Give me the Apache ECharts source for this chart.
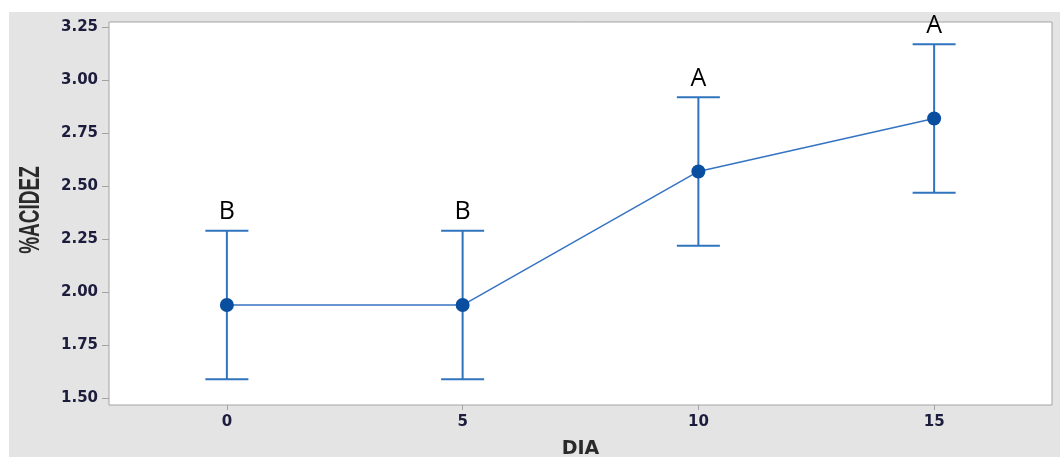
<!DOCTYPE html>
<html>
<head>
<meta charset="utf-8">
<script src="https://cdn.jsdelivr.net/npm/echarts@6/dist/echarts.min.js"></script>
<style>
  html, body { margin: 0; padding: 0; background: #ffffff; }
  #chart { width: 1060px; height: 457px; }
</style>
</head>
<body>
<div id="chart"></div>
<script>
// Acidity (%) by storage day: means with confidence intervals and Tukey group letters
const days = [0, 5, 10, 15];
const meanAcidity = [1.94, 1.94, 2.57, 2.82];
const lowerCI = [1.59, 1.59, 2.22, 2.47];
const upperCI = [2.29, 2.29, 2.92, 3.17];
const groupLetters = ['B', 'B', 'A', 'A'];
const yTicks = [1.50, 1.75, 2.00, 2.25, 2.50, 2.75, 3.00, 3.25];
const xTicks = [0, 5, 10, 15];

const chart = echarts.init(document.getElementById('chart'));

const meanPoints = days.map((d, i) => [d, meanAcidity[i]]);
const intervalRows = days.map((d, i) => [d, lowerCI[i], upperCI[i], groupLetters[i]]);

const tickFont = {
  fontFamily: 'DejaVu Sans',
  fontWeight: 'bold',
  fontSize: 15,
  color: '#1c1c3c'
};

chart.setOption({
  animation: false,
  backgroundColor: 'transparent',
  graphic: [
    {
      type: 'rect',
      z: -10,
      silent: true,
      shape: { x: 9, y: 12, width: 1051, height: 445 },
      style: { fill: '#e4e4e4' }
    },
    {
      type: 'text',
      x: 31,
      y: 210,
      rotation: Math.PI / 2,
      scaleY: 1.55,
      style: {
        text: '%ACIDEZ',
        font: 'bold 19px "Liberation Sans"',
        fill: '#2a2a2a',
        align: 'center',
        verticalAlign: 'middle'
      }
    }
  ],
  grid: {
    show: true,
    left: 109,
    right: 8,
    top: 22,
    bottom: 52,
    outerBoundsMode: 'none',
    containLabel: false,
    backgroundColor: '#ffffff',
    borderColor: '#a3a3a3',
    borderWidth: 1
  },
  xAxis: {
    type: 'value',
    min: -2.5,
    max: 17.5,
    name: 'DIA',
    nameLocation: 'middle',
    nameGap: 35,
    nameTextStyle: {
      fontFamily: 'DejaVu Sans',
      fontWeight: 'bold',
      fontSize: 19,
      color: '#2a2a2a'
    },
    axisLine: { show: false, onZero: false },
    splitLine: { show: false },
    axisTick: {
      show: true,
      length: 5,
      customValues: xTicks,
      lineStyle: { color: '#a3a3a3', width: 1 }
    },
    axisLabel: Object.assign({
      margin: 10,
      customValues: xTicks,
      formatter: v => String(v)
    }, tickFont)
  },
  yAxis: {
    type: 'value',
    min: 1.4685,
    max: 3.275,
    axisLine: { show: false, onZero: false },
    splitLine: { show: false },
    axisTick: {
      show: true,
      length: 7,
      customValues: yTicks,
      lineStyle: { color: '#a3a3a3', width: 1 }
    },
    axisLabel: Object.assign({
      margin: 11,
      customValues: yTicks,
      formatter: v => v.toFixed(2)
    }, tickFont)
  },
  series: [
    {
      // confidence interval bars with caps and the group letter above each
      type: 'custom',
      z: 2,
      data: intervalRows,
      encode: { x: 0, y: [1, 2] },
      renderItem: function (params, api) {
        const x = api.value(0);
        const lo = api.coord([x, api.value(1)]);
        const hi = api.coord([x, api.value(2)]);
        const half = 21.5;
        const stroke = { stroke: '#2f74bd', lineWidth: 2 };
        return {
          type: 'group',
          children: [
            { type: 'line', shape: { x1: lo[0], y1: lo[1], x2: hi[0], y2: hi[1] }, style: stroke },
            { type: 'line', shape: { x1: hi[0] - half, y1: hi[1], x2: hi[0] + half, y2: hi[1] }, style: stroke },
            { type: 'line', shape: { x1: lo[0] - half, y1: lo[1], x2: lo[0] + half, y2: lo[1] }, style: stroke },
            {
              type: 'text',
              x: hi[0],
              y: hi[1] - 6,
              style: {
                text: api.value(3),
                font: '25px "Open Sans"',
                fill: '#000000',
                align: 'center',
                verticalAlign: 'bottom'
              }
            }
          ]
        };
      }
    },
    {
      type: 'line',
      z: 3,
      data: meanPoints,
      symbol: 'circle',
      symbolSize: 14,
      lineStyle: { color: '#3573c2', width: 1.5 },
      itemStyle: { color: '#0a4f9f' }
    }
  ]
});
</script>
</body>
</html>
